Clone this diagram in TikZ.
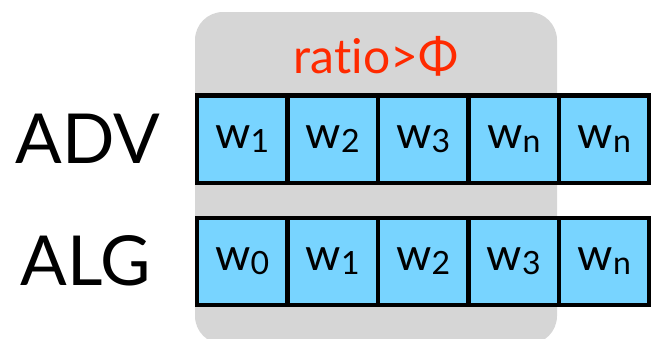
\documentclass[tikz,border=0pt]{standalone}
\usepackage{fontspec}
\setmainfont{Lato}[Ligatures=NoCommon]
\definecolor{panelgray}{HTML}{D6D6D6}
\definecolor{cellblue}{HTML}{78D4FF}
\definecolor{ratiored}{HTML}{FF2A00}
\newcommand{\wsub}[1]{{\fontsize{45}{45}\selectfont w\raisebox{-4pt}{\fontsize{32}{32}\selectfont #1}}}
\begin{document}
\begin{tikzpicture}[x=1pt,y=-1pt,
  cell/.style={draw=black,line width=4.5pt,fill=cellblue,minimum width=90.5pt,
    inner sep=0pt,outer sep=0pt},
  rowlabel/.style={font=\fontsize{69}{69}\selectfont,inner sep=0pt}]
\useasboundingbox (0,0) rectangle (651,338);
\begin{scope}
  \clip (0,0) rectangle (651,338);
  \fill[panelgray,rounded corners=28pt] (195,12) rectangle (557,344);
\end{scope}
\node[text=ratiored,font=\fontsize{48}{48}\selectfont,inner sep=0pt] (ratio) at (376,56) {ratio>Φ};
\node[rowlabel] (adv) at (88,139) {ADV};
\node[rowlabel] (alg) at (86,261) {ALG};
% top row
\foreach \i/\t [count=\k from 0] in {1/1,2/2,3/3,4/n,5/n}{
  \node[cell,minimum height=87.5pt] (a\i) at (197+45.25+90.5*\k,139) {\wsub{\t}};
}
% bottom row
\foreach \i/\t [count=\k from 0] in {1/0,2/1,3/2,4/3,5/n}{
  \node[cell,minimum height=87pt] (b\i) at (197+45.25+90.5*\k,261.5) {\wsub{\t}};
}
\end{tikzpicture}
\end{document}
